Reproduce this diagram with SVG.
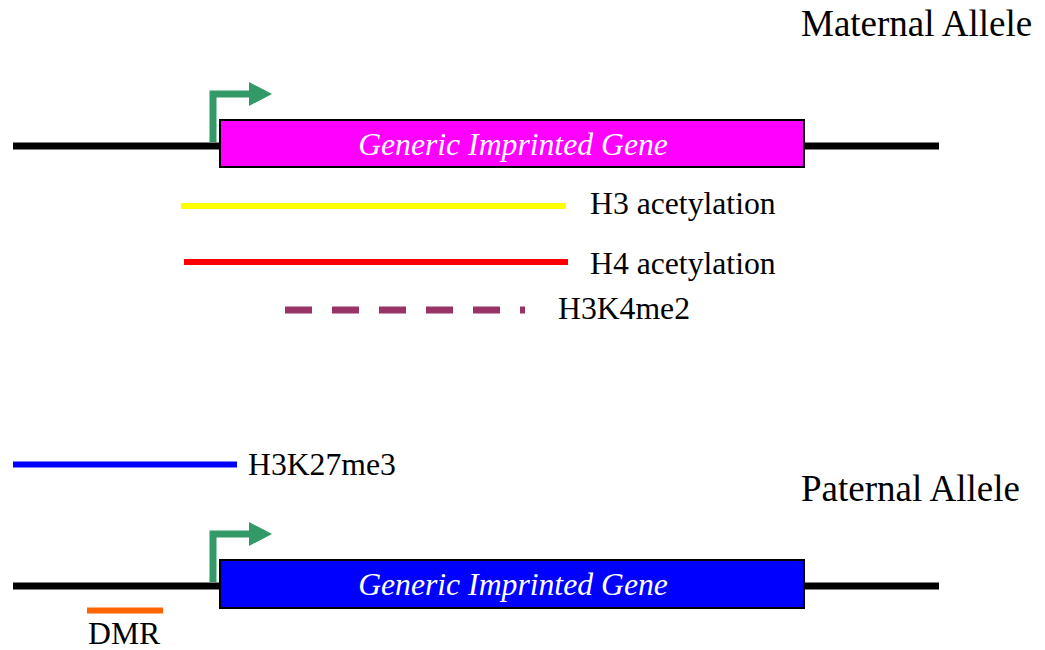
<svg xmlns="http://www.w3.org/2000/svg" width="1045" height="650" viewBox="0 0 1045 650">
<style>
.t{font-family:"Liberation Serif","Times New Roman",serif;fill:#000;font-size:31.7px}
.big{font-size:37px}
.gene{font-family:"Liberation Serif","Times New Roman",serif;font-style:italic;fill:#fff;font-size:31.7px;text-anchor:middle}
.chrom{stroke:#000;stroke-width:7;fill:none}
.prom{stroke:#339966;stroke-width:7;fill:none}
.head{fill:#339966}
.box{stroke:#000;stroke-width:2}
</style>
<rect width="1045" height="650" fill="#fff"/>
<g id="maternal-allele">
  <line class="chrom" x1="13" y1="146" x2="939" y2="146"/>
  <path class="prom" d="M213,142 V94 H250"/>
  <polygon class="head" points="249,82 272,94 249,106"/>
  <rect class="box" x="220" y="120" width="584" height="47" fill="#ff00ff"/>
  <text class="gene" x="513" y="155">Generic Imprinted Gene</text>
  <text class="t big" x="801" y="36">Maternal Allele</text>
</g>
<g id="marks">
  <g id="h3ac"><line x1="181" y1="206" x2="566" y2="206" stroke="#ffff00" stroke-width="6"/><text class="t" x="590" y="214">H3 acetylation</text></g>
  <g id="h4ac"><line x1="184" y1="262" x2="568" y2="262" stroke="#ff0000" stroke-width="6"/><text class="t" x="590" y="274">H4 acetylation</text></g>
  <g id="h3k4me2"><line x1="285" y1="310" x2="525" y2="310" stroke="#993366" stroke-width="7" stroke-dasharray="27 20"/><text class="t" x="558" y="319">H3K4me2</text></g>
  <g id="h3k27me3"><line x1="13" y1="464.5" x2="237" y2="464.5" stroke="#0000ff" stroke-width="6"/><text class="t" x="248" y="475">H3K27me3</text></g>
</g>
<g id="paternal-allele">
  <line class="chrom" x1="13" y1="586" x2="939" y2="586"/>
  <path class="prom" d="M213,582 V534 H250"/>
  <polygon class="head" points="249,522 272,534 249,546"/>
  <rect class="box" x="220" y="560" width="584" height="48" fill="#0000ff"/>
  <text class="gene" x="513" y="595">Generic Imprinted Gene</text>
  <text class="t big" x="801" y="501">Paternal Allele</text>
</g>
<g id="dmr">
  <line x1="87" y1="610.5" x2="163" y2="610.5" stroke="#ff6600" stroke-width="6"/>
  <text class="t" x="88" y="644">DMR</text>
</g>
</svg>
